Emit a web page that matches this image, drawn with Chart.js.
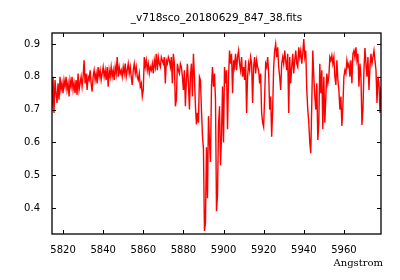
<!DOCTYPE html>
<html lang="en">
<head>
  <meta charset="UTF-8">
  <title>_v718sco_20180629_847_38.fits</title>
  <script src="https://cdn.jsdelivr.net/npm/chart.js"></script>
  <style>
    html, body { margin: 0; padding: 0; background: #fff; }
    canvas { display: block; }
  </style>
</head>
<body>
  <canvas id="spec" width="400" height="280"></canvas>
  <script>
    const titleText = '_v718sco_20180629_847_38.fits';
    const xLabel = 'Angstrom';
    // wavelength grid of the spectrum (start + step, like CRVAL1 / CDELT1)
    const lambda0 = 5814.5;
    const dLambda = 0.5;
    const xTicks = [5820, 5840, 5860, 5880, 5900, 5920, 5940, 5960];
    const yTicks = [0.4, 0.5, 0.6, 0.7, 0.8, 0.9];
    const xRange = [5814.5, 5978.5];
    const yRange = [0.3207, 0.9335];

    // flux, every 0.5 A
    const flux = [
      0.70, 0.80, 0.69, 0.79, 0.75, 0.72, 0.78, 0.73, 0.80, 0.76,
      0.78, 0.75, 0.79, 0.77, 0.80, 0.76, 0.78, 0.74, 0.79, 0.77,
      0.80, 0.76, 0.78, 0.75, 0.79, 0.745, 0.81, 0.76, 0.78, 0.80,
      0.77, 0.80, 0.85, 0.78, 0.81, 0.76, 0.80, 0.79, 0.82, 0.78,
      0.755, 0.80, 0.82, 0.79, 0.81, 0.78, 0.83, 0.80, 0.82, 0.79,
      0.81, 0.83, 0.80, 0.82, 0.79, 0.83, 0.77, 0.82, 0.80, 0.83,
      0.80, 0.82, 0.79, 0.83, 0.81, 0.86, 0.80, 0.83, 0.81, 0.82,
      0.80, 0.83, 0.81, 0.84, 0.80, 0.82, 0.84, 0.81, 0.83, 0.80,
      0.775, 0.82, 0.84, 0.81, 0.83, 0.80, 0.79, 0.81, 0.77, 0.78,
      0.74, 0.76, 0.86, 0.83, 0.85, 0.82, 0.84, 0.81, 0.83, 0.82,
      0.84, 0.81, 0.85, 0.83, 0.87, 0.82, 0.86, 0.84, 0.83, 0.86,
      0.85, 0.84, 0.86, 0.78, 0.85, 0.84, 0.86, 0.85, 0.83, 0.86,
      0.78, 0.87, 0.84, 0.71, 0.73, 0.84, 0.82, 0.81, 0.84, 0.83,
      0.80, 0.76, 0.82, 0.71, 0.79, 0.84, 0.78, 0.70, 0.80, 0.84,
      0.74, 0.87, 0.80, 0.71, 0.655, 0.69, 0.66, 0.80, 0.79, 0.70,
      0.62, 0.58, 0.33, 0.355, 0.585, 0.43, 0.68, 0.60, 0.54, 0.77,
      0.83, 0.77, 0.81, 0.73, 0.39, 0.44, 0.65, 0.71, 0.53, 0.62,
      0.77, 0.60, 0.83, 0.78, 0.82, 0.64, 0.80, 0.88, 0.84, 0.87,
      0.75, 0.85, 0.83, 0.87, 0.82, 0.86, 0.88, 0.84, 0.82, 0.86,
      0.80, 0.83, 0.79, 0.85, 0.69, 0.80, 0.84, 0.82, 0.86, 0.84,
      0.72, 0.83, 0.86, 0.81, 0.85, 0.83, 0.82, 0.78, 0.81, 0.69,
      0.66, 0.647, 0.74, 0.84, 0.83, 0.86, 0.81, 0.70, 0.74, 0.617,
      0.70, 0.83, 0.88, 0.90, 0.86, 0.89, 0.83, 0.80, 0.76, 0.84,
      0.86, 0.84, 0.88, 0.85, 0.82, 0.87, 0.69, 0.86, 0.78, 0.83,
      0.87, 0.81, 0.85, 0.88, 0.84, 0.83, 0.89, 0.86, 0.88, 0.84,
      0.87, 0.915, 0.86, 0.88, 0.76, 0.70, 0.66, 0.60, 0.567, 0.72,
      0.88, 0.80, 0.74, 0.70, 0.78, 0.607, 0.66, 0.84, 0.75, 0.82,
      0.64, 0.80, 0.66, 0.74, 0.81, 0.78, 0.80, 0.86, 0.85, 0.865,
      0.84, 0.86, 0.80, 0.775, 0.85, 0.79, 0.76, 0.70, 0.74, 0.65,
      0.71, 0.80, 0.82, 0.81, 0.85, 0.83, 0.84, 0.80, 0.85, 0.78,
      0.87, 0.88, 0.86, 0.89, 0.85, 0.87, 0.77, 0.84, 0.80, 0.653,
      0.70, 0.82, 0.888, 0.84, 0.80, 0.86, 0.76, 0.83, 0.87, 0.84,
      0.86, 0.88, 0.85, 0.82, 0.72, 0.80, 0.78, 0.69, 0.77, 0.80
    ];

    const points = flux.map((f, i) => ({ x: lambda0 + i * dLambda, y: f }));

    // gnuplot-like frame, inward ticks on all four sides, title and x label
    const framePlugin = {
      id: 'frame',
      afterDraw(chart) {
        const { ctx, chartArea: a, scales } = chart;
        const len = 4;
        ctx.save();
        ctx.strokeStyle = '#000';
        ctx.lineWidth = 1;
        ctx.beginPath();
        xTicks.forEach(v => {
          const px = Math.round(scales.x.getPixelForValue(v)) + 0.5;
          ctx.moveTo(px, a.bottom); ctx.lineTo(px, a.bottom - len);
          ctx.moveTo(px, a.top); ctx.lineTo(px, a.top + len);
        });
        yTicks.forEach(v => {
          const py = Math.round(scales.y.getPixelForValue(v)) + 0.5;
          ctx.moveTo(a.left, py); ctx.lineTo(a.left + len, py);
          ctx.moveTo(a.right, py); ctx.lineTo(a.right - len, py);
        });
        ctx.stroke();
        ctx.lineWidth = 1.3;
        ctx.strokeRect(a.left, a.top, a.right - a.left, a.bottom - a.top);

        ctx.fillStyle = '#000';
        ctx.font = '10.5px "DejaVu Sans"';
        ctx.textAlign = 'center';
        ctx.textBaseline = 'middle';
        ctx.fillText(titleText, (a.left + a.right) / 2, 18);
        ctx.font = '10px "DejaVu Serif"';
        ctx.textAlign = 'right';
        ctx.fillText(xLabel, a.right + 2, 263);
        ctx.restore();
      }
    };

    new Chart(document.getElementById('spec'), {
      type: 'line',
      data: {
        datasets: [{
          data: points,
          borderColor: '#ff0000',
          borderWidth: 1.4,
          pointRadius: 0,
          tension: 0,
          fill: false
        }]
      },
      options: {
        responsive: false,
        animation: false,
        devicePixelRatio: 1,
        layout: { padding: { left: 0, top: 33, right: 19, bottom: 0 } },
        plugins: { legend: { display: false }, tooltip: { enabled: false }, title: { display: false } },
        scales: {
          x: {
            type: 'linear',
            min: xRange[0], max: xRange[1],
            afterBuildTicks: s => { s.ticks = xTicks.map(v => ({ value: v })); },
            afterFit: s => { s.height = 46; },
            grid: { display: false, drawTicks: false },
            border: { display: false },
            ticks: { color: '#000', font: { family: 'DejaVu Sans', size: 10 }, padding: 10, maxRotation: 0, autoSkip: false, callback: v => String(v) }
          },
          y: {
            min: yRange[0], max: yRange[1],
            afterBuildTicks: s => { s.ticks = yTicks.map(v => ({ value: v })); },
            afterFit: s => { s.width = 52; },
            grid: { display: false, drawTicks: false },
            border: { display: false },
            ticks: { color: '#000', font: { family: 'DejaVu Sans', size: 10 }, padding: 12, callback: v => v.toFixed(1) }
          }
        }
      },
      plugins: [framePlugin]
    });
  </script>
</body>
</html>
